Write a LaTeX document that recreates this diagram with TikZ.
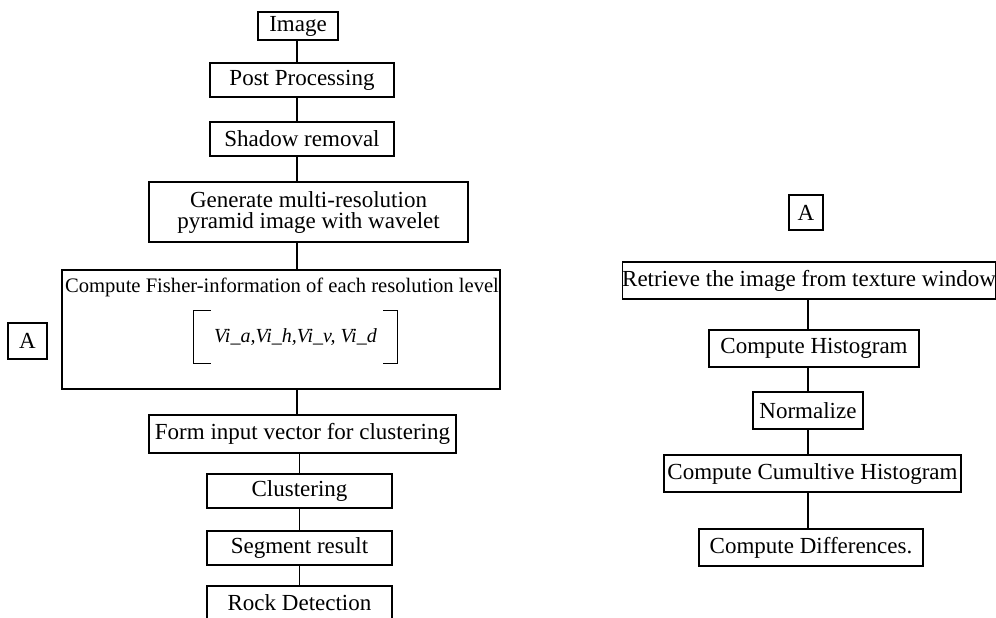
\documentclass[tikz,border=0pt]{standalone}
\usepackage{fontspec}
\setmainfont{Liberation Serif}
\usepackage{tikz}
\usetikzlibrary{positioning,calc}
\tikzset{
  stepbox/.style={draw, line width=0.65pt, inner sep=0pt, align=center,
                  font=\fontsize{11.5}{10.5}\selectfont},
  tagbox/.style={draw, line width=0.65pt, inner sep=0pt,
                 font=\fontsize{11.5}{12}\selectfont},
  link/.style={line width=0.65pt}
}

\begin{document}
\begin{tikzpicture}[x=0.5pt, y=-0.5pt]
    \clip (0,0) rectangle (996,617);
    \fill[white] (0,0) rectangle (996,617);

    % left chain
    \coordinate (lspine) at (297,0);
    \coordinate (bspine) at (299.5,0);
    \node[stepbox, minimum width=40pt, minimum height=14pt] (img) at (298,26) {Image};
    \node[stepbox, minimum width=92pt, minimum height=17pt] (post) at (302,80) {Post Processing};
    \node[stepbox, minimum width=92pt, minimum height=17pt] (shadow) at (302,139) {Shadow removal};
    \node[stepbox, minimum width=159.5pt, minimum height=30pt] (gen) at (308.5,212)
      {Generate multi-resolution\\pyramid image with wavelet};
    \node[draw, line width=0.65pt, minimum width=219pt, minimum height=59.5pt] (fisher) at (281,329.5) {};
    \node[font=\fontsize{10.3}{12}\selectfont, inner sep=0pt] (fishertxt) at (282,287)
      {Compute Fisher-information of each resolution level};
    \node[minimum width=101.5pt, minimum height=26pt, inner sep=0pt,
          font=\fontsize{10}{12}\selectfont\itshape] (vec) at (295.5,337)
      {Vi\_a,Vi\_h,Vi\_v, Vi\_d};
    \draw[link] ($(vec.north west)+(17,0)$) -- (vec.north west) -- (vec.south west) -- ++(17,0);
    \draw[link] ($(vec.north east)+(-14,0)$) -- (vec.north east) -- (vec.south east) -- ++(-14,0);
    \node[tagbox, minimum width=19.5pt, minimum height=18pt] (tagl) at (27.5,341) {A};
    \node[stepbox, minimum width=153.5pt, minimum height=19pt] (form) at (302.5,434) {Form input vector for clustering};
    \node[stepbox, minimum width=92.5pt, minimum height=17pt] (clus) at (299.5,491) {Clustering};
    \node[stepbox, minimum width=92.5pt, minimum height=17pt] (seg) at (299.5,548) {Segment result};
    \node[stepbox, minimum width=92.5pt, minimum height=17pt] (rock) at (299.5,603) {Rock Detection};

    \draw[link] (img.south -| lspine) -- (post.north -| lspine);
    \draw[link] (post.south -| lspine) -- (shadow.north -| lspine);
    \draw[link] (shadow.south -| lspine) -- (gen.north -| lspine);
    \draw[link] (gen.south -| lspine) -- (fisher.north -| lspine);
    \draw[link] (fisher.south -| lspine) -- (form.north -| lspine);
    \draw[link] (form.south -| bspine) -- (clus.north -| bspine);
    \draw[link] (clus.south -| bspine) -- (seg.north -| bspine);
    \draw[link] (seg.south -| bspine) -- (rock.north -| bspine);

    % right chain
    \coordinate (rspine) at (808,0);
    \node[tagbox, minimum width=17pt, minimum height=17.5pt] (tagr) at (806,212.5) {A};
    \node[stepbox, minimum width=185.5pt, minimum height=18.5pt] (ret) at (809,280.5) {Retrieve the image from texture window};
    \node[stepbox, minimum width=105pt, minimum height=18.5pt] (hist) at (814,348.5) {Compute Histogram};
    \node[stepbox, minimum width=55pt, minimum height=18.5pt] (norm) at (808,410.5) {Normalize};
    \node[stepbox, minimum width=148.5pt, minimum height=18.5pt] (cum) at (812.5,473.5) {Compute Cumultive Histogram};
    \node[stepbox, minimum width=112pt, minimum height=18.5pt] (diff) at (811,547.5) {Compute Differences.};

    \draw[link] (ret.south -| rspine) -- (hist.north -| rspine);
    \draw[link] (hist.south -| rspine) -- (norm.north -| rspine);
    \draw[link] (norm.south -| rspine) -- (cum.north -| rspine);
    \draw[link] (cum.south -| rspine) -- (diff.north -| rspine);
\end{tikzpicture}
\end{document}
